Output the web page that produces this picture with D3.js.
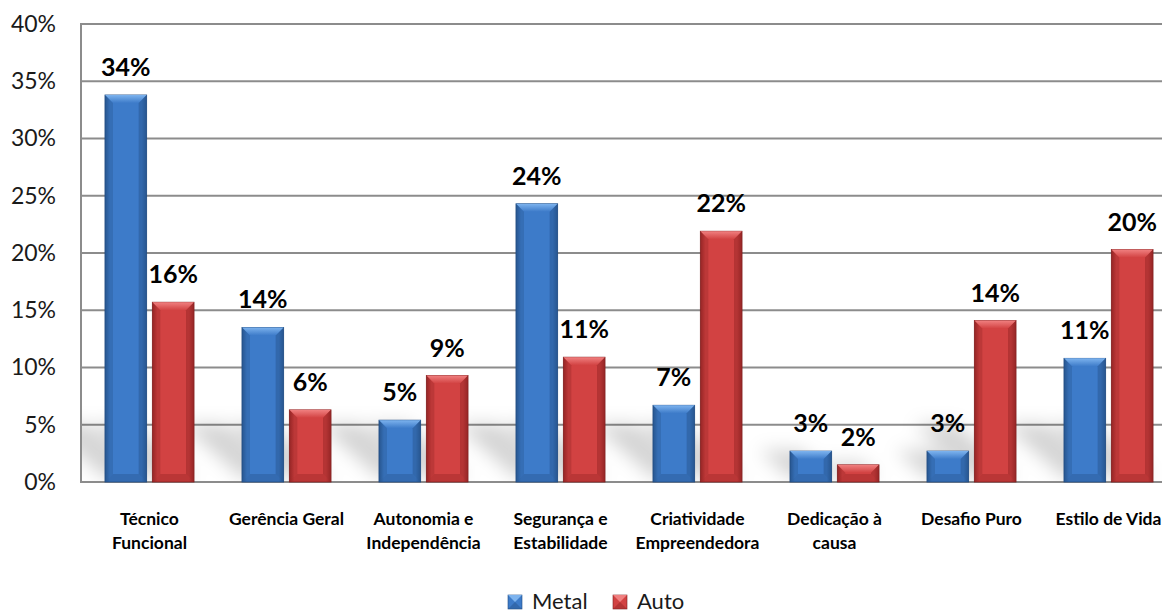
<!DOCTYPE html>
<html>
<head>
<meta charset="utf-8">
<script src="https://cdn.jsdelivr.net/npm/d3@7"></script>
<style>
  html, body { margin: 0; padding: 0; background: #fff; overflow: hidden; }
  svg { display: block; font-family: Lato, "Open Sans", sans-serif; }
</style>
</head>
<body>
<svg id="chart" width="1162" height="614"></svg>
<script>
const categories = [
  ["Técnico", "Funcional"],
  ["Gerência Geral"],
  ["Autonomia e", "Independência"],
  ["Segurança e", "Estabilidade"],
  ["Criatividade", "Empreendedora"],
  ["Dedicação à", "causa"],
  ["Desafio Puro"],
  ["Estilo de Vida"]
];
const seriesNames = ["Metal", "Auto"];
const metalValues = [0.338, 0.135, 0.054, 0.243, 0.067, 0.027, 0.027, 0.108];
const autoValues  = [0.157, 0.063, 0.093, 0.109, 0.219, 0.015, 0.141, 0.203];
const yTicks = [0, 0.05, 0.10, 0.15, 0.20, 0.25, 0.30, 0.35, 0.40];

const svg = d3.select("#chart");
const W = 1162, H = 614;
const plot = { left: 81, right: 1177, top: 24, bottom: 482 };

const catIdx = categories.map((_, i) => i);
const x0 = d3.scaleBand().domain(catIdx).range([plot.left, plot.right])
  .paddingInner(0.35).paddingOuter(0.175);
const x1 = d3.scaleBand().domain(seriesNames).range([0, x0.bandwidth()]).paddingInner(0.12);
const y = d3.scaleLinear().domain([0, 0.40]).range([plot.bottom, plot.top]);

const colors = {
  Metal: { main: "#3d7bc9", light: "#7db3ee", dark: "#27568f", edge: "#1f4a80" },
  Auto:  { main: "#d24242", light: "#f08080", dark: "#962626", edge: "#7e1e1e" }
};

const defs = svg.append("defs");
seriesNames.forEach(s => {
  const c = colors[s];
  const g = defs.append("linearGradient").attr("id", "grad-" + s).attr("x1", "0").attr("x2", "1").attr("y1", "0").attr("y2", "0");
  g.append("stop").attr("offset", "0%").attr("stop-color", c.dark);
  g.append("stop").attr("offset", "12%").attr("stop-color", c.main);
  g.append("stop").attr("offset", "50%").attr("stop-color", c.main);
  g.append("stop").attr("offset", "88%").attr("stop-color", c.main);
  g.append("stop").attr("offset", "100%").attr("stop-color", c.dark);
  const t = defs.append("linearGradient").attr("id", "top-" + s).attr("x1", "0").attr("x2", "0").attr("y1", "0").attr("y2", "1");
  t.append("stop").attr("offset", "0%").attr("stop-color", c.light);
  t.append("stop").attr("offset", "100%").attr("stop-color", c.main);
});
const blur = defs.append("filter").attr("id", "blur").attr("x", "-50%").attr("y", "-50%").attr("width", "200%").attr("height", "200%");
blur.append("feGaussianBlur").attr("stdDeviation", 9);

// gridlines
svg.append("g").selectAll("line").data(yTicks).join("line")
  .attr("x1", plot.left).attr("x2", plot.right)
  .attr("y1", d => y(d)).attr("y2", d => y(d))
  .attr("stroke", "#8c8c8c").attr("stroke-width", 2);

// perspective shadows
const shadowG = svg.append("g").attr("filter", "url(#blur)");
const allBars = [];
catIdx.forEach(i => {
  allBars.push({ i, s: "Metal", v: metalValues[i] });
  allBars.push({ i, s: "Auto", v: autoValues[i] });
});
shadowG.selectAll("path").data(allBars).join("path")
  .attr("d", d => {
    const xl = x0(d.i) + x1(d.s), w = x1.bandwidth();
    const h = Math.min(y(0) - y(d.v), 60);
    const yb = y(0) - 4, yt = yb - h * 0.9;
    const sk = h * 1.0;
    return `M${xl},${yb} L${xl + w},${yb} L${xl + w - sk},${yt} L${xl - sk},${yt} Z`;
  })
  .attr("fill", "#000").attr("opacity", 0.17);

// white mask behind axis to keep frame clean
svg.append("rect").attr("x", 0).attr("y", plot.bottom + 1).attr("width", W).attr("height", 40).attr("fill", "#fff");
svg.append("rect").attr("x", 0).attr("y", 0).attr("width", plot.left - 1).attr("height", plot.bottom + 40).attr("fill", "#fff");

// axis lines
svg.append("line").attr("x1", plot.left).attr("x2", plot.left).attr("y1", plot.top - 1).attr("y2", plot.bottom + 1)
  .attr("stroke", "#8c8c8c").attr("stroke-width", 2);
svg.append("line").attr("x1", plot.left).attr("x2", plot.right).attr("y1", plot.bottom).attr("y2", plot.bottom)
  .attr("stroke", "#8c8c8c").attr("stroke-width", 2);

// y axis labels
const yAxis = d3.axisLeft(y).tickValues(yTicks).tickFormat(d3.format(".0%")).tickSize(0).tickPadding(0);
const ya = svg.append("g").attr("transform", `translate(56,0)`).call(yAxis);
ya.select(".domain").remove();
ya.selectAll("text").attr("font-size", 23).attr("fill", "#1a1a1a").attr("font-family", "Lato, sans-serif");

// bars
const barG = svg.append("g").selectAll("g").data(allBars).join("g")
  .attr("transform", d => `translate(${x0(d.i) + x1(d.s)},0)`);
barG.each(function(d) {
  const g = d3.select(this);
  const w = x1.bandwidth();
  const yt = y(d.v), yb = y(0);
  const h = yb - yt;
  const c = colors[d.s];
  const bev = Math.min(8, h / 2);
  g.append("rect").attr("x", 0).attr("y", yt).attr("width", w).attr("height", h)
    .attr("fill", `url(#grad-${d.s})`).attr("stroke", c.edge).attr("stroke-width", 0.8);
  g.append("path").attr("d", `M0,${yt} L${w},${yt} L${w - bev},${yt + bev} L${bev},${yt + bev} Z`)
    .attr("fill", `url(#top-${d.s})`);
  g.append("path").attr("d", `M0,${yt} L${bev},${yt + bev} L${bev},${yb - bev} L0,${yb} Z`)
    .attr("fill", c.dark).attr("opacity", 0.35);
  g.append("path").attr("d", `M${w},${yt} L${w - bev},${yt + bev} L${w - bev},${yb - bev} L${w},${yb} Z`)
    .attr("fill", c.dark).attr("opacity", 0.5);
  g.append("path").attr("d", `M0,${yb} L${bev},${yb - bev} L${w - bev},${yb - bev} L${w},${yb} Z`)
    .attr("fill", c.dark).attr("opacity", 0.4);
});

// value labels
svg.append("g").selectAll("text").data(allBars).join("text")
  .attr("x", d => x0(d.i) + x1(d.s) + x1.bandwidth() / 2)
  .attr("y", d => y(d.v) - 19)
  .attr("text-anchor", "middle")
  .attr("font-size", 25).attr("font-weight", "bold").attr("fill", "#000")
  .text(d => d3.format(".0%")(d.v));

// category labels
const catG = svg.append("g").selectAll("text").data(catIdx).join("text")
  .attr("x", i => x0(i) + x0.bandwidth() / 2)
  .attr("y", 525)
  .attr("text-anchor", "middle")
  .attr("font-size", 17.5).attr("font-weight", "bold").attr("fill", "#000");
catG.each(function(i) {
  const t = d3.select(this);
  categories[i].forEach((line, k) => {
    t.append("tspan").attr("x", x0(i) + x0.bandwidth() / 2).attr("dy", k === 0 ? 0 : 24).text(line);
  });
});

// legend
const legend = svg.append("g").attr("transform", "translate(508,594)");
const legItems = [{ s: "Metal", x: 0 }, { s: "Auto", x: 105 }];
legItems.forEach(it => {
  const c = colors[it.s];
  const g = legend.append("g").attr("transform", `translate(${it.x},0)`);
  g.append("rect").attr("x", 0).attr("y", 1).attr("width", 14).attr("height", 14)
    .attr("fill", c.main).attr("stroke", c.edge).attr("stroke-width", 0.6);
  g.append("path").attr("d", "M0,1 L14,1 L7,8 Z").attr("fill", c.light);
  g.append("path").attr("d", "M0,15 L14,15 L7,8 Z").attr("fill", c.dark).attr("opacity", 0.5);
  g.append("text").attr("x", 24).attr("y", 15).attr("font-size", 22).attr("fill", "#1a1a1a").text(it.s);
});
</script>
</body>
</html>
